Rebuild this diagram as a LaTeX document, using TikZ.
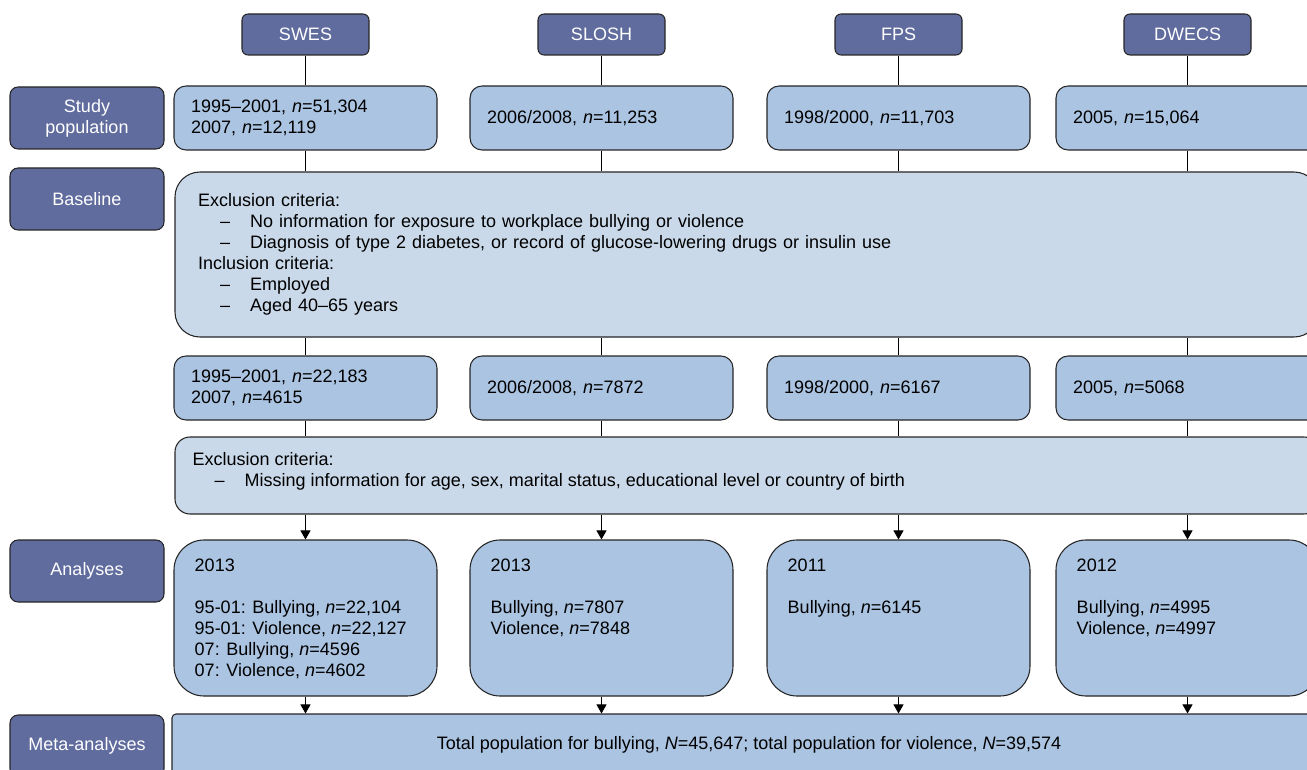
\documentclass[tikz,border=0pt]{standalone}
\usepackage{fontspec}
\setmainfont{Liberation Sans}
\usepackage{tikz}
\usetikzlibrary{arrows.meta}

\definecolor{cohortblue}{RGB}{96,108,158}
\definecolor{boxblue}{RGB}{171,196,226}
\definecolor{paleblue}{RGB}{202,217,233}

% one criterion line, indented with a dash
\newcommand{\critem}[1]{\hspace*{16.5pt}–\hspace{15pt}#1}

\begin{document}
\begin{tikzpicture}[>={Triangle[length=6.75pt,width=7.5pt]}, x=0.75pt, y=-0.75pt,
    every node/.style={font=\fontsize{13.5}{15.75}\selectfont},
    cohort/.style={draw=black!85, line width=0.8pt, fill=cohortblue, text=white,
        rounded corners=4.5pt, minimum width=95.25pt, minimum height=30.75pt, inner sep=0pt},
    stage/.style={cohort, minimum width=115.5pt, minimum height=46.5pt,
        rounded corners=6pt, align=center},
    count/.style={draw=black!85, line width=0.8pt, fill=boxblue, rounded corners=9pt,
        minimum height=48pt, text width=171.75pt, inner xsep=12.75pt, inner ysep=0pt, align=left},
    crit/.style={draw=black!85, line width=0.8pt, fill=paleblue, minimum width=858pt, inner sep=0pt},
    result/.style={draw=black!85, line width=0.8pt, fill=boxblue, rounded corners=22.5pt,
        minimum width=197.25pt, minimum height=117pt, inner sep=0pt},
    note/.style={anchor=north west, align=left, inner sep=0pt},
    wire/.style={line width=0.75pt}]
    \useasboundingbox (0,0) rectangle (1307,770);

    % 1. Stage labels on the left
    \node[stage] (lstudy) at (87,118) {Study\\population};
    \node[stage] (lbase) at (87,199) {Baseline};
    \node[stage] (lana) at (87,571) {Analyses};
    \node[stage] (lmeta) at (87,746) {Meta-analyses};

    % 2. Cohort headers
    \node[cohort] (swes0) at (305.5,34.5) {SWES};
    \node[cohort] (slosh0) at (601.5,34.5) {SLOSH};
    \node[cohort] (fps0) at (898.5,34.5) {FPS};
    \node[cohort] (dwecs0) at (1187.5,34.5) {DWECS};

    % 3. Study population
    \node[count] (swes1) at (305.5,118) {1995–2001, \textit{n}=51,304\\2007, \textit{n}=12,119};
    \node[count] (slosh1) at (601.5,118) {2006/2008, \textit{n}=11,253};
    \node[count] (fps1) at (898.5,118) {1998/2000, \textit{n}=11,703};
    \node[count] (dwecs1) at (1187.5,118) {2005, \textit{n}=15,064};

    % 4. Baseline criteria (runs off the right edge)
    \node[crit, minimum height=123.75pt, rounded corners=18.75pt, text width=823.5pt,
        inner xsep=17.25pt, align=left] (base) at (747,254.5)
        {Exclusion criteria:\\
         \critem{No information for exposure to workplace bullying or violence}\\
         \critem{Diagnosis of type 2 diabetes, or record of glucose-lowering drugs or insulin use}\\
         Inclusion criteria:\\
         \critem{Employed}\\
         \critem{Aged 40–65 years}};

    % 5. After baseline
    \node[count] (swes2) at (305.5,388) {1995–2001, \textit{n}=22,183\\2007, \textit{n}=4615};
    \node[count] (slosh2) at (601.5,388) {2006/2008, \textit{n}=7872};
    \node[count] (fps2) at (898.5,388) {1998/2000, \textit{n}=6167};
    \node[count] (dwecs2) at (1187.5,388) {2005, \textit{n}=5068};

    % 6. Second exclusion
    \node[crit, minimum height=57.75pt, rounded corners=11.25pt] (excl) at (747,475.5) {};
    \node[note] (excltxt) at ([xshift=13.5pt,yshift=-11.6pt]excl.north west)
        {Exclusion criteria:\\
         \critem{Missing information for age, sex, marital status, educational level or country of birth}};

    % 7. Analyses
    \node[result] (swes3) at (305.5,618) {};
    \node[result] (slosh3) at (601.5,618) {};
    \node[result] (fps3) at (898.5,618) {};
    \node[result] (dwecs3) at (1187.5,618) {};
    \node[note] (swes3txt) at ([xshift=15.75pt,yshift=-14.7pt]swes3.north west)
        {2013\\[15.75pt]95-01: Bullying, \textit{n}=22,104\\95-01: Violence, \textit{n}=22,127\\
         07: Bullying, \textit{n}=4596\\07: Violence, \textit{n}=4602};
    \node[note] (slosh3txt) at ([xshift=15.75pt,yshift=-14.7pt]slosh3.north west)
        {2013\\[15.75pt]Bullying, \textit{n}=7807\\Violence, \textit{n}=7848};
    \node[note] (fps3txt) at ([xshift=15.75pt,yshift=-14.7pt]fps3.north west)
        {2011\\[15.75pt]Bullying, \textit{n}=6145};
    \node[note] (dwecs3txt) at ([xshift=15.75pt,yshift=-14.7pt]dwecs3.north west)
        {2012\\[15.75pt]Bullying, \textit{n}=4995\\Violence, \textit{n}=4997};

    % 8. Meta-analyses (cut by the bottom edge)
    \node[draw=black!85, line width=0.8pt, fill=boxblue, rounded corners=3pt,
        minimum width=865.5pt, minimum height=46.5pt] (meta) at (749,745)
        {Total population for bullying, \textit{N}=45,647; total population for violence, \textit{N}=39,574};

    % 9. Connectors
    \draw[wire] (swes0) -- (swes1);
    \draw[wire] (slosh0) -- (slosh1);
    \draw[wire] (fps0) -- (fps1);
    \draw[wire] (dwecs0) -- (dwecs1);

    \draw[wire] (swes1) -- (swes1 |- base.north);
    \draw[wire] (slosh1) -- (slosh1 |- base.north);
    \draw[wire] (fps1) -- (fps1 |- base.north);
    \draw[wire] (dwecs1) -- (dwecs1 |- base.north);

    \draw[wire] (swes2 |- base.south) -- (swes2);
    \draw[wire] (slosh2 |- base.south) -- (slosh2);
    \draw[wire] (fps2 |- base.south) -- (fps2);
    \draw[wire] (dwecs2 |- base.south) -- (dwecs2);

    \draw[wire] (swes2) -- (swes2 |- excl.north);
    \draw[wire] (slosh2) -- (slosh2 |- excl.north);
    \draw[wire] (fps2) -- (fps2 |- excl.north);
    \draw[wire] (dwecs2) -- (dwecs2 |- excl.north);

    \draw[wire,->] (swes3 |- excl.south) -- (swes3);
    \draw[wire,->] (slosh3 |- excl.south) -- (slosh3);
    \draw[wire,->] (fps3 |- excl.south) -- (fps3);
    \draw[wire,->] (dwecs3 |- excl.south) -- (dwecs3);

    \draw[wire,->] (swes3) -- (swes3 |- meta.north);
    \draw[wire,->] (slosh3) -- (slosh3 |- meta.north);
    \draw[wire,->] (fps3) -- (fps3 |- meta.north);
    \draw[wire,->] (dwecs3) -- (dwecs3 |- meta.north);
\end{tikzpicture}
\end{document}
